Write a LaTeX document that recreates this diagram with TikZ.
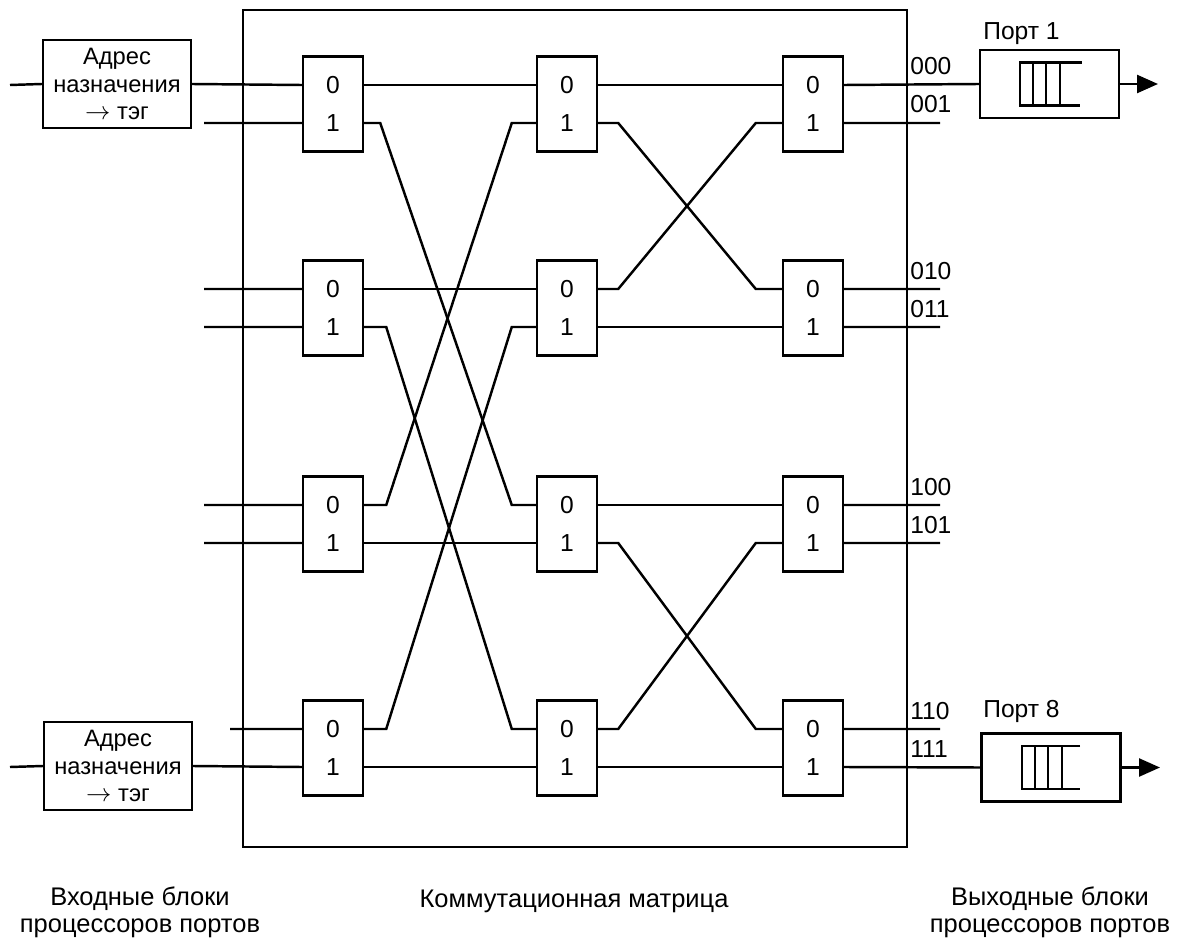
\documentclass[tikz,border=0pt]{standalone}
\usepackage{fontspec}
\setmainfont{Liberation Sans}
\usetikzlibrary{arrows.meta}
\begin{document}
\begin{tikzpicture}[
  x=0.02cm, y=-0.02cm,
  % Node styles
  wire/.style={line width=1.4pt},
  switchbox/.style={rectangle, draw, line width=1.4pt, minimum width=1.2cm,
    minimum height=1.9cm, inner sep=0pt, align=center,
    font=\fontsize{14}{21.5}\selectfont},
  adrbox/.style={rectangle, draw, line width=1.4pt, minimum width=2.96cm,
    minimum height=1.76cm, inner sep=0pt, align=center,
    font=\fontsize{13.5}{15.9}\selectfont},
  portbox/.style={rectangle, draw, line width=1.4pt, minimum width=2.78cm,
    minimum height=1.36cm},
  matbox/.style={rectangle, draw, line width=1.4pt, minimum width=13.28cm,
    minimum height=16.74cm},
  code/.style={font=\fontsize{14}{16}\selectfont, anchor=base west, inner sep=0pt},
  caption/.style={font=\fontsize{14.5}{15.3}\selectfont, align=center, inner sep=0pt},
  outarr/.style={line width=1.4pt, -{Triangle[length=0.42cm, width=0.36cm]}},
]
\useasboundingbox (0,0) rectangle (1187,939);

% === Column positions ===
\def\colA{333}
\def\colB{567}
\def\colC{813}
\def\up{0.38cm}

% === Commutation matrix frame ===
\node[matbox] (matrix) at (575,428.5) {};

% === Column A switches ===
\node[switchbox] (A1) at (\colA,104) {0\\1};
\node[switchbox] (A2) at (\colA,308) {0\\1};
\node[switchbox] (A3) at (\colA,524) {0\\1};
\node[switchbox] (A4) at (\colA,748) {0\\1};

% === Column B switches ===
\node[switchbox] (B1) at (\colB,104) {0\\1};
\node[switchbox] (B2) at (\colB,308) {0\\1};
\node[switchbox] (B3) at (\colB,524) {0\\1};
\node[switchbox] (B4) at (\colB,748) {0\\1};

% === Column C switches ===
\node[switchbox] (C1) at (\colC,104) {0\\1};
\node[switchbox] (C2) at (\colC,308) {0\\1};
\node[switchbox] (C3) at (\colC,524) {0\\1};
\node[switchbox] (C4) at (\colC,748) {0\\1};

% === Input port processors ===
\node[adrbox] (adr1) at (117,84) {Адрес\\назначения\\$\rightarrow$ тэг};
\node[adrbox] (adr8) at (118,766) {Адрес\\назначения\\$\rightarrow$ тэг};

% free input ends
\coordinate (in1) at (10,85);
\coordinate (in2) at (204,123);
\coordinate (in3) at (204,289);
\coordinate (in4) at (204,327);
\coordinate (in5) at (204,505);
\coordinate (in6) at (204,543);
\coordinate (in7) at (230,729);
\coordinate (in8) at (10,767);

\draw[wire] (in1) -- (adr1.west);
\draw[wire] (adr1.east) -- ([yshift=\up]A1.west);
\draw[wire] (in2) -- ([yshift=-\up]A1.west);
\draw[wire] (in3) -- ([yshift=\up]A2.west);
\draw[wire] (in4) -- ([yshift=-\up]A2.west);
\draw[wire] (in5) -- ([yshift=\up]A3.west);
\draw[wire] (in6) -- ([yshift=-\up]A3.west);
\draw[wire] (in7) -- ([yshift=\up]A4.west);
\draw[wire] (in8) -- (adr8.west);
\draw[wire] (adr8.east) -- ([yshift=-\up]A4.west);

% === Links: column A -> column B ===
\draw[wire] ([yshift=\up]A1.east) -- ([yshift=\up]B1.west);
\draw[wire] ([yshift=-\up]A1.east) -- ++(16,0) -- ([xshift=-0.48cm,yshift=\up]B3.west) -- ([yshift=\up]B3.west);
\draw[wire] ([yshift=\up]A2.east) -- ([yshift=\up]B2.west);
\draw[wire] ([yshift=-\up]A2.east) -- ++(22,0) -- ([xshift=-0.48cm,yshift=\up]B4.west) -- ([yshift=\up]B4.west);
\draw[wire] ([yshift=\up]A3.east) -- ++(22,0) -- ([xshift=-0.48cm,yshift=-\up]B1.west) -- ([yshift=-\up]B1.west);
\draw[wire] ([yshift=-\up]A3.east) -- ([yshift=-\up]B3.west);
\draw[wire] ([yshift=\up]A4.east) -- ++(22,0) -- ([xshift=-0.48cm,yshift=-\up]B2.west) -- ([yshift=-\up]B2.west);
\draw[wire] ([yshift=-\up]A4.east) -- ([yshift=-\up]B4.west);

% === Links: column B -> column C ===
\draw[wire] ([yshift=\up]B1.east) -- ([yshift=\up]C1.west);
\draw[wire] ([yshift=-\up]B1.east) -- ++(20,0) -- ([xshift=-0.52cm,yshift=\up]C2.west) -- ([yshift=\up]C2.west);
\draw[wire] ([yshift=\up]B2.east) -- ++(20,0) -- ([xshift=-0.52cm,yshift=-\up]C1.west) -- ([yshift=-\up]C1.west);
\draw[wire] ([yshift=-\up]B2.east) -- ([yshift=-\up]C2.west);
\draw[wire] ([yshift=\up]B3.east) -- ([yshift=\up]C3.west);
\draw[wire] ([yshift=-\up]B3.east) -- ++(20,0) -- ([xshift=-0.52cm,yshift=\up]C4.west) -- ([yshift=\up]C4.west);
\draw[wire] ([yshift=\up]B4.east) -- ++(20,0) -- ([xshift=-0.52cm,yshift=-\up]C3.west) -- ([yshift=-\up]C3.west);
\draw[wire] ([yshift=-\up]B4.east) -- ([yshift=-\up]C4.west);

% === Output port processors ===
\node[portbox] (P1) at (1049.5,84) {};
\node[portbox] (P8) at (1051,767.5) {};
\node[code] (P1lbl) at (983,40) {Порт 1};
\node[code] (P8lbl) at (983,717) {Порт 8};

% queues
\begin{scope}[shift={(P1.center)}]
  \draw[wire] (32,-21.5) -- (-29.5,-21.5) -- (-29.5,21.5) -- (30,21.5);
  \draw[wire] (-16.5,-21.5) -- (-16.5,21.5);
  \draw[wire] (-3.5,-21.5) -- (-3.5,21.5);
  \draw[wire] (10.5,-21.5) -- (10.5,21.5);
\end{scope}
\begin{scope}[shift={(P8.center)}]
  \draw[wire] (29,-21.5) -- (-29,-21.5) -- (-29,21.5) -- (29,21.5);
  \draw[wire] (-16,-21.5) -- (-16,21.5);
  \draw[wire] (-3,-21.5) -- (-3,21.5);
  \draw[wire] (11,-21.5) -- (11,21.5);
\end{scope}

% free output ends
\coordinate (out2) at (940,123);
\coordinate (out3) at (940,289);
\coordinate (out4) at (940,327);
\coordinate (out5) at (940,505);
\coordinate (out6) at (940,543);
\coordinate (out7) at (940,729);
\coordinate (out1) at (1158,84);
\coordinate (out8) at (1160,767.5);

\draw[wire] ([yshift=\up]C1.east) -- (P1.west);
\draw[wire] ([yshift=-\up]C1.east) -- (out2);
\draw[wire] ([yshift=\up]C2.east) -- (out3);
\draw[wire] ([yshift=-\up]C2.east) -- (out4);
\draw[wire] ([yshift=\up]C3.east) -- (out5);
\draw[wire] ([yshift=-\up]C3.east) -- (out6);
\draw[wire] ([yshift=\up]C4.east) -- (out7);
\draw[wire] ([yshift=-\up]C4.east) -- (P8.west);
\draw[outarr] (P1.east) -- (out1);
\draw[outarr] (P8.east) -- (out8);

% === Output codes ===
\node[code] (k000) at (910,75) {000};
\node[code] (k001) at (910,113) {001};
\node[code] (k010) at (910,279) {010};
\node[code] (k011) at (910,317) {011};
\node[code] (k100) at (910,495) {100};
\node[code] (k101) at (910,533) {101};
\node[code] (k110) at (910,719) {110};
\node[code] (k111) at (910,757) {111};

% === Bottom captions ===
\node[caption] (capin) at (140,912) {Входные блоки\\процессоров портов};
\node[caption, anchor=base] (capmat) at (574,907) {Коммутационная матрица};
\node[caption] (capout) at (1050,912) {Выходные блоки\\процессоров портов};

\end{tikzpicture}
\end{document}
